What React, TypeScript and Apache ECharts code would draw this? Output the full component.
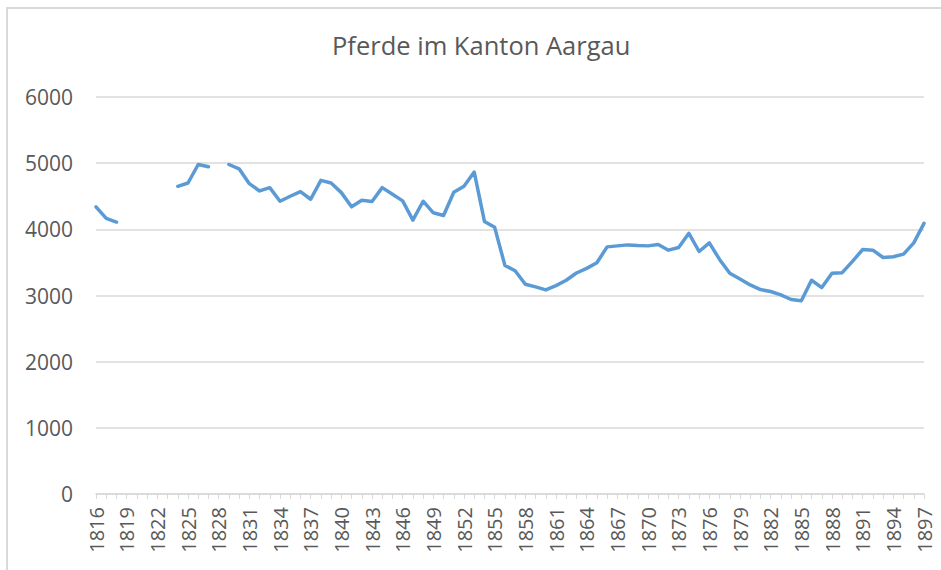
import React, { useEffect, useRef } from "react";
import * as echarts from "echarts";

const titleText = "Pferde im Kanton Aargau";
const startYear = 1816;
const endYear = 1897;
const years: string[] = [];
for (let y = startYear; y <= endYear; y++) years.push(String(y));

// values per year, 1816..1897 (null = no data)
const horses: (number | null)[] = [
  4340, 4165, 4110, null, null, null, null, null, 4650, 4700, // 1816-1825
  4980, 4945, null, 4980, 4915, 4690, 4580, 4630, 4425, 4500, // 1826-1835
  4570, 4455, 4740, 4700, 4555, 4340, 4440, 4420, 4630, 4530, // 1836-1845
  4430, 4140, 4425, 4250, 4210, 4560, 4650, 4865, 4120, 4030, // 1846-1855
  3455, 3375, 3170, 3130, 3085, 3150, 3230, 3340, 3410, 3495, // 1856-1865
  3735, 3750, 3765, 3755, 3750, 3770, 3685, 3725, 3940, 3665, // 1866-1875
  3795, 3545, 3335, 3250, 3160, 3090, 3060, 3010, 2940, 2920, // 1876-1885
  3230, 3120, 3335, 3345, 3515, 3695, 3685, 3575, 3585, 3625, // 1886-1895
  3795, 4090, // 1896-1897
];

const yTicks = { min: 0, max: 6000, interval: 1000 };

export default function App() {
  const ref = useRef<HTMLDivElement>(null);
  useEffect(() => {
    document.body.style.margin = "0";
    const chart = echarts.init(ref.current!, null, { renderer: "svg" });
    chart.setOption({
      animation: false,
      backgroundColor: "#ffffff",
      textStyle: { fontFamily: "Open Sans" },
      title: {
        text: titleText,
        left: 327,
        top: 27,
        textStyle: {
          fontFamily: "Open Sans",
          fontSize: 25.5,
          fontWeight: "normal",
          color: "#595959",
        },
      },
      graphic: [
        {
          type: "rect",
          shape: { x: 7, y: 8, width: 1000, height: 700 },
          style: { fill: "none", stroke: "#d9d9d9", lineWidth: 2 },
          silent: true,
        },
      ],
      grid: { left: 96, right: 17, top: 97, bottom: 76, containLabel: false },
      xAxis: {
        type: "category",
        data: years,
        boundaryGap: false,
        axisLine: { lineStyle: { color: "#d9d9d9", width: 1.5 } },
        axisTick: {
          interval: 0,
          length: 5,
          lineStyle: { color: "#d9d9d9", width: 1 },
        },
        axisLabel: {
          interval: 2,
          rotate: 90,
          margin: 13,
          fontSize: 20,
          color: "#595959",
          fontFamily: "Open Sans",
        },
        splitLine: { show: false },
      },
      yAxis: {
        type: "value",
        min: yTicks.min,
        max: yTicks.max,
        interval: yTicks.interval,
        axisLine: { show: false },
        axisTick: { show: false },
        axisLabel: {
          margin: 23,
          fontSize: 21,
          color: "#595959",
          fontFamily: "Open Sans",
          formatter: (v: number) => String(v),
        },
        splitLine: { lineStyle: { color: "#d9d9d9", width: 1.5 } },
      },
      series: [
        {
          type: "line",
          data: horses,
          connectNulls: false,
          showSymbol: false,
          symbol: "none",
          lineStyle: { color: "#5b9bd5", width: 3.5, cap: "round", join: "round" },
          itemStyle: { color: "#5b9bd5" },
        },
      ],
    });
    return () => chart.dispose();
  }, []);
  return (
    <div
      ref={ref}
      style={{ position: "absolute", left: 0, top: 0, width: 941, height: 570 }}
    />
  );
}
